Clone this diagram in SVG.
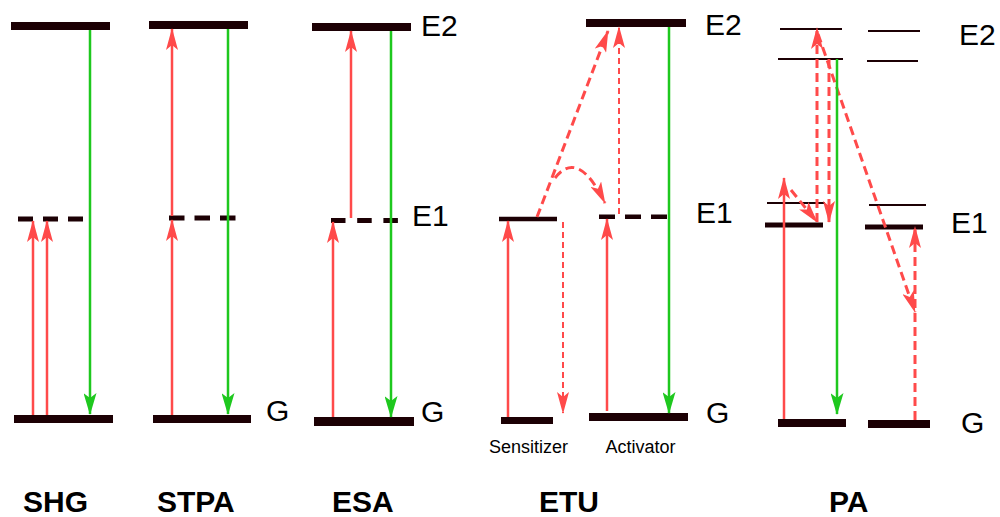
<svg xmlns="http://www.w3.org/2000/svg" width="1000" height="517" viewBox="0 0 1000 517">
<style>
.bar{fill:#1c0004}
.lv{stroke:#1c0004;fill:none}
.dl{stroke:#1c0004;stroke-width:5;fill:none}
.thin{stroke:#1c0004;stroke-width:2;fill:none}
.red{stroke:#ff4a4a;stroke-width:2.5;fill:none}
.rd{stroke:#ff4a4a;stroke-width:3;fill:none;stroke-dasharray:9 5}
.rdt{stroke:#ff4a4a;stroke-width:2;fill:none;stroke-dasharray:6 4}
.grn{stroke:#1ec81e;stroke-width:2.5;fill:none}
.lbl{font-family:"Liberation Sans",Arial,sans-serif;font-size:30px;fill:#000}
.ttl{font-family:"Liberation Sans",Arial,sans-serif;font-size:30px;font-weight:bold;fill:#000}
.sm{font-family:"Liberation Sans",Arial,sans-serif;font-size:18px;fill:#000;text-anchor:middle}
</style>
<defs>
<marker id="ar" viewBox="0 0 22 12" refX="21" refY="6" markerWidth="22" markerHeight="12" markerUnits="userSpaceOnUse" orient="auto">
<path d="M0,0 L22,6 L0,12 L5,6 Z" fill="#ff4a4a"/>
</marker>
<marker id="ag" viewBox="0 0 22 13" refX="21" refY="6.5" markerWidth="22" markerHeight="13" markerUnits="userSpaceOnUse" orient="auto">
<path d="M0,0 L22,6.5 L0,13 L5,6.5 Z" fill="#1ec81e"/>
</marker>
</defs>
<rect width="1000" height="517" fill="#fff"/>

<g id="shg">
<rect class="bar" x="11" y="22" width="99" height="8"/>
<line class="dl" x1="18" y1="219" x2="85" y2="219" stroke-dasharray="15 10"/>
<rect class="bar" x="14" y="415" width="99" height="8"/>
<text class="ttl" x="23" y="512">SHG</text>
</g>

<g id="stpa">
<rect class="bar" x="149" y="21" width="99" height="8"/>
<line class="dl" x1="169" y1="218" x2="236" y2="218" stroke-dasharray="15.5 10"/>
<rect class="bar" x="153" y="415" width="98" height="8"/>
<text class="lbl" x="266" y="421">G</text>
<text class="ttl" x="157" y="512">STPA</text>
</g>

<g id="esa">
<rect class="bar" x="312" y="23" width="99" height="8"/>
<line class="dl" x1="331" y1="220.5" x2="398" y2="220.5" stroke-dasharray="14.5 11.7"/>
<rect class="bar" x="314" y="417" width="100" height="9"/>
<text class="lbl" x="421" y="36">E2</text>
<text class="lbl" x="412" y="226">E1</text>
<text class="lbl" x="421" y="422">G</text>
<text class="ttl" x="332" y="512">ESA</text>
</g>

<g id="etu">
<rect class="bar" x="586" y="19" width="100" height="8"/>
<line class="lv" x1="499" y1="219" x2="557" y2="219" stroke-width="4.5"/>
<line class="lv" x1="599" y1="216.7" x2="667" y2="216.7" stroke-width="4.5" stroke-dasharray="16 10"/>
<rect class="bar" x="501" y="417" width="52" height="7"/>
<rect class="bar" x="589" y="413" width="99" height="8"/>
<text class="lbl" x="705" y="35">E2</text>
<text class="lbl" x="696" y="223">E1</text>
<text class="lbl" x="706" y="423">G</text>
<text class="sm" x="528.5" y="453">Sensitizer</text>
<text class="sm" x="640.5" y="453">Activator</text>
<text class="ttl" x="539" y="512">ETU</text>
</g>

<g id="pa">
<line class="thin" x1="780" y1="29" x2="842" y2="29"/>
<line class="thin" x1="778" y1="59" x2="843" y2="59"/>
<line class="thin" x1="868" y1="31" x2="920" y2="31"/>
<line class="thin" x1="867" y1="61" x2="918" y2="61"/>
<line class="thin" x1="767" y1="203" x2="825" y2="203"/>
<line class="dl" x1="765" y1="225" x2="823" y2="225"/>
<line class="thin" x1="869" y1="205" x2="926" y2="205"/>
<line class="dl" x1="865" y1="227" x2="923" y2="227"/>
<rect class="bar" x="778" y="419" width="68" height="8"/>
<rect class="bar" x="868" y="420" width="62" height="8"/>
<text class="lbl" x="959" y="45">E2</text>
<text class="lbl" x="951" y="233">E1</text>
<text class="lbl" x="961" y="433">G</text>
<text class="ttl" x="829" y="512">PA</text>
</g>

<g id="connectors">
<!-- SHG -->
<line class="red" x1="33" y1="415" x2="33" y2="221" marker-end="url(#ar)"/>
<line class="red" x1="47" y1="415" x2="47" y2="221" marker-end="url(#ar)"/>
<line class="grn" x1="90" y1="30" x2="90" y2="414" marker-end="url(#ag)"/>
<!-- STPA -->
<line class="red" x1="172" y1="415" x2="172" y2="220" marker-end="url(#ar)"/>
<line class="red" x1="172" y1="216" x2="172" y2="29" marker-end="url(#ar)"/>
<line class="grn" x1="228" y1="29" x2="228" y2="414" marker-end="url(#ag)"/>
<!-- ESA -->
<line class="red" x1="333" y1="417" x2="333" y2="222" marker-end="url(#ar)"/>
<line class="red" x1="351" y1="218" x2="351" y2="31" marker-end="url(#ar)"/>
<line class="grn" x1="391" y1="31" x2="391" y2="417" marker-end="url(#ag)"/>
<!-- ETU -->
<line class="red" x1="508" y1="417" x2="508" y2="221" marker-end="url(#ar)"/>
<line class="rdt" x1="563" y1="222" x2="563" y2="413" marker-end="url(#ar)"/>
<line class="red" x1="607" y1="411" x2="607" y2="219" marker-end="url(#ar)"/>
<line class="rd" x1="537" y1="217" x2="608" y2="31" marker-end="url(#ar)"/>
<line class="rdt" x1="619" y1="214" x2="619" y2="27" marker-end="url(#ar)"/>
<path class="rd" d="M555,178 Q578,148 605,203" marker-end="url(#ar)"/>
<line class="grn" x1="669" y1="27" x2="669" y2="413" marker-end="url(#ag)"/>
<!-- PA -->
<line class="red" x1="784" y1="419" x2="784" y2="178" marker-end="url(#ar)"/>
<line class="rd" x1="791" y1="190" x2="817" y2="222" marker-end="url(#ar)"/>
<line class="rd" x1="817" y1="222" x2="817" y2="28" marker-end="url(#ar)"/>
<line class="rd" x1="829" y1="59" x2="829" y2="222" marker-end="url(#ar)"/>
<line class="rd" x1="818" y1="34" x2="915" y2="312" marker-end="url(#ar)"/>
<line class="rd" x1="915" y1="420" x2="915" y2="227" marker-end="url(#ar)"/>
<line class="grn" x1="837" y1="59" x2="837" y2="414" marker-end="url(#ag)"/>
</g>
</svg>
